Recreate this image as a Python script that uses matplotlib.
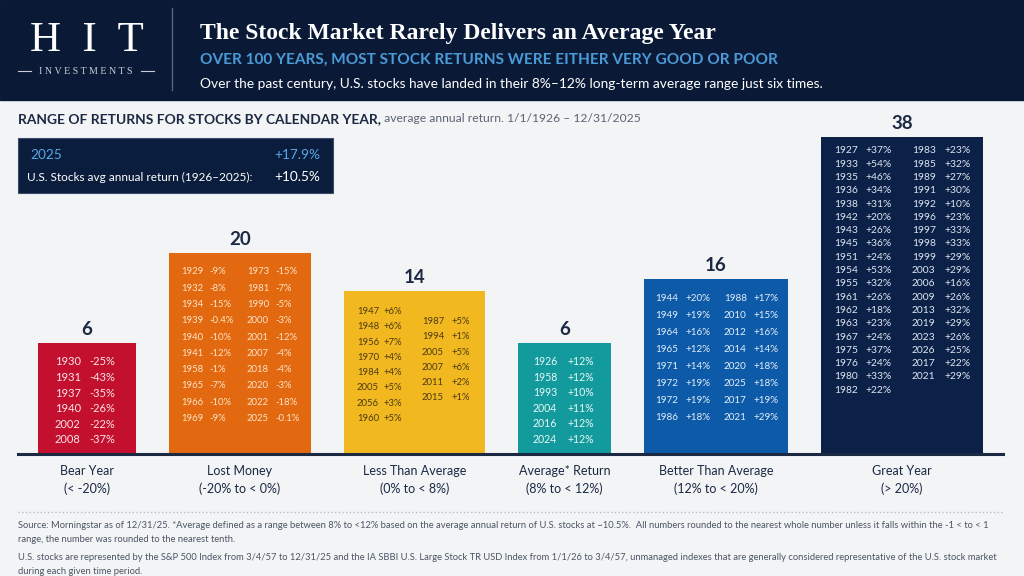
import numpy as np
import matplotlib.pyplot as plt
from matplotlib.patches import Rectangle

plt.rcParams['font.family'] = ['Lato', 'DejaVu Sans']

# ---- data ----
categories = ['Bear Year', 'Lost Money', 'Less Than Average',
              'Average* Return', 'Better Than Average', 'Great Year']
ranges = ['(< -20%)', '(-20% to < 0%)', '(0% to < 8%)',
          '(8% to < 12%)', '(12% to < 20%)', '(> 20%)']
counts = [6, 20, 14, 6, 16, 38]

bear_years = [1930, 1931, 1937, 1940, 2002, 2008]
bear_returns = [-25, -43, -35, -26, -22, -37]
lost_years = [1929, 1932, 1934, 1939, 1940, 1941, 1958, 1965, 1966, 1969,
              1973, 1981, 1990, 2000, 2001, 2007, 2018, 2020, 2022, 2025]
lost_returns = [-9, -8, -15, -0.4, -10, -12, -1, -7, -10, -9,
                -15, -7, -5, -3, -12, -4, -4, -3, -18, -0.1]
less_years = [1947, 1948, 1956, 1970, 1984, 2005, 2056, 1960,
              1987, 1994, 2005, 2007, 2011, 2015]
less_returns = [6, 6, 7, 4, 4, 5, 3, 5,
                5, 1, 5, 6, 2, 1]
avg_years = [1926, 1958, 1993, 2004, 2016, 2024]
avg_returns = [12, 12, 10, 11, 12, 12]
better_years = [1944, 1949, 1964, 1965, 1971, 1972, 1972, 1986,
                1988, 2010, 2012, 2014, 2020, 2025, 2017, 2021]
better_returns = [20, 19, 16, 12, 14, 19, 19, 18,
                  17, 15, 16, 14, 18, 18, 19, 29]
great_years = [1927, 1933, 1935, 1936, 1938, 1942, 1943, 1945, 1951, 1954,
               1955, 1961, 1962, 1963, 1967, 1975, 1976, 1980, 1982,
               1983, 1985, 1989, 1991, 1992, 1996, 1997, 1998, 1999, 2003,
               2006, 2009, 2013, 2019, 2023, 2026, 2017, 2021]
great_returns = [37, 54, 46, 34, 31, 20, 26, 36, 24, 53,
                 32, 26, 18, 23, 24, 37, 24, 33, 22,
                 23, 32, 27, 30, 10, 23, 33, 33, 29, 29,
                 16, 26, 32, 29, 26, 25, 22, 29]

year_lists = [bear_years, lost_years, less_years, avg_years, better_years, great_years]
return_lists = [bear_returns, lost_returns, less_returns, avg_returns, better_returns, great_returns]

latest_year, latest_return = 2025, 17.9
avg_label, avg_return = 'U.S. Stocks avg annual return (1926\u20132025):', 10.5

# ---- style ----
NAVY = '#0a1a36'
INK = '#1b2943'
colors = ['#c3102e', '#e2690f', '#f2b820', '#139a9c', '#0d5aa8', '#0b2147']
text_colors = ['#fbe5e7', '#fde3c8', '#4d3b12', '#e8f7f7', '#e3eefa', '#dfe6f2']
widths = [98, 142, 141, 93, 144, 162]
gap = 33
rows_per_col = [6, 10, 8, 6, 8, 19]
# first row offset, row spacing, font size, column (year dx, return dx, extra dy)
row_style = [
    (19, 15.6, 8.0, [(17, 51, 0)]),
    (19, 16.3, 6.8, [(12, 40, 0), (78, 106, 0)]),
    (20, 15.3, 6.8, [(13, 40, 0), (78, 108, 10)]),
    (19, 15.5, 7.6, [(15, 50, 0)]),
    (20, 17.0, 7.1, [(11, 41, 0), (80, 109, 0)]),
    (14, 13.3, 7.4, [(13, 44, 0), (91, 123, 0)]),
]
PX_PER = 6.44   # pixels per count
BASE = 11.24    # counts below zero where bars start


def fmt(v):
    return f'{v:+.0f}%' if abs(v) >= 1 else f'{v:+.1f}%'


fig = plt.figure(figsize=(10.24, 5.76), dpi=100)
fig.patch.set_facecolor('#f3f4f6')

bg = fig.add_axes([0, 0, 1, 1])
bg.set_xlim(0, 1024)
bg.set_ylim(576, 0)
bg.axis('off')

# header band
bg.add_patch(Rectangle((0, 0), 1024, 100, color=NAVY, zorder=0))
bg.text(87, 41, 'H  I  T', family='Liberation Serif', size=31, color='white',
        ha='center', va='center')
bg.text(86, 71, ' '.join('INVESTMENTS'), family='Liberation Serif', size=7.2,
        color='#c9ced8', ha='center', va='center')
bg.plot([18, 31], [71, 71], color='#c9ced8', lw=0.8)
bg.plot([141, 154], [71, 71], color='#c9ced8', lw=0.8)
bg.plot([172, 172], [8, 90], color='#55647e', lw=1)
bg.text(200, 33, 'The Stock Market Rarely Delivers an Average Year',
        family='Liberation Serif', weight='bold', size=17, color='white', va='center')
bg.text(200, 60, 'OVER 100 YEARS, MOST STOCK RETURNS WERE EITHER VERY GOOD OR POOR',
        weight='bold', size=11.1, color='#4b9ad8', va='center')
bg.text(200, 84, 'Over the past century, U.S. stocks have landed in their 8%\u201312% '
        'long-term average range just six times.', size=9.95, color='white', va='center')

# section title
t1 = bg.text(18, 119, 'RANGE OF RETURNS FOR STOCKS BY CALENDAR YEAR,', weight='bold',
             size=9.9, color=INK, va='center')
bg.annotate(' average annual return. 1/1/1926 \u2013 12/31/2025', xy=(1, 0.5), xycoords=t1,
            va='center', size=8.7, color='#5b6473')

# info box
bg.add_patch(Rectangle((18, 138), 315, 55, facecolor='#0b1d3d', edgecolor='#3a4c6b', lw=0.8))
bg.text(30, 155, str(latest_year), size=9.8, color='#5aa8e6', va='center')
bg.text(320, 155, f'{latest_return:+.1f}%', size=9.8, color='#5aa8e6', va='center', ha='right')
bg.text(27, 177, avg_label, size=8.5, color='white', va='center')
bg.text(320, 177, f'{avg_return:+.1f}%', size=9.8, color='white', va='center', ha='right')

# bars
ax = fig.add_axes([0, (576 - 454) / 576, 1, (454 - 100) / 576])
ax.set_xlim(0, 1024)
ax.set_ylim(-BASE, -BASE + 354 / PX_PER)
ax.axis('off')

lefts = 38 + np.concatenate([[0], np.cumsum(np.array(widths[:-1]) + gap)])
centers = lefts + np.array(widths) / 2
heights = np.array(counts) + BASE
ax.bar(lefts, heights, width=widths, bottom=-BASE, align='edge', color=colors, zorder=2)
ax.plot([18, 1003], [-BASE, -BASE], color=INK, lw=2.2, clip_on=False, zorder=3)

for i, c in enumerate(counts):
    ax.annotate(str(c), (centers[i], c), xytext=(0, 8), textcoords='offset pixels',
                ha='center', va='baseline', size=13.5, weight='bold', color=INK)
    ax.annotate(categories[i], (centers[i], -BASE), xytext=(0, -17), textcoords='offset pixels',
                ha='center', va='center', size=9, color=INK, annotation_clip=False)
    ax.annotate(ranges[i], (centers[i], -BASE), xytext=(0, -35), textcoords='offset pixels',
                ha='center', va='center', size=9, color=INK, annotation_clip=False)

    first, step, fs, cols = row_style[i]
    n = rows_per_col[i]
    ys, rs = year_lists[i], return_lists[i]
    for k, (ydx, rdx, extra) in enumerate(cols):
        for j, (yr, rv) in enumerate(zip(ys[k * n:(k + 1) * n], rs[k * n:(k + 1) * n])):
            dy = -(first + extra + j * step)
            ax.annotate(str(yr), (lefts[i], c), xytext=(ydx, dy), textcoords='offset pixels',
                        va='center', ha='left', size=fs, color=text_colors[i], zorder=4)
            ax.annotate(fmt(rv), (lefts[i], c), xytext=(rdx, dy), textcoords='offset pixels',
                        va='center', ha='left', size=fs, color=text_colors[i], zorder=4)

# footer
bg.plot([18, 1003], [512, 512], color='#b8bec8', lw=1, ls=':')
foot = '#4a5566'
bg.text(18, 525, 'Source: Morningstar as of 12/31/25. *Average defined as a range between 8% to <12% '
        'based on the average annual return of U.S. stocks at ~10.5%.  All numbers rounded to the '
        'nearest whole number unless it falls within the -1 < to < 1', size=6.75, color=foot, va='center')
bg.text(18, 540, 'range, the number was rounded to the nearest tenth.', size=6.75, color=foot, va='center')
bg.text(18, 557, 'U.S. stocks are represented by the S&P 500 Index from 3/4/57 to 12/31/25 and the IA SBBI '
        'U.S. Large Stock TR USD Index from 1/1/26 to 3/4/57, unmanaged indexes that are generally '
        'considered representative of the U.S. stock market', size=6.75, color=foot, va='center')
bg.text(18, 571, 'during each given time period.', size=6.75, color=foot, va='center')

fig.savefig('out.png', dpi=100, facecolor=fig.get_facecolor())
